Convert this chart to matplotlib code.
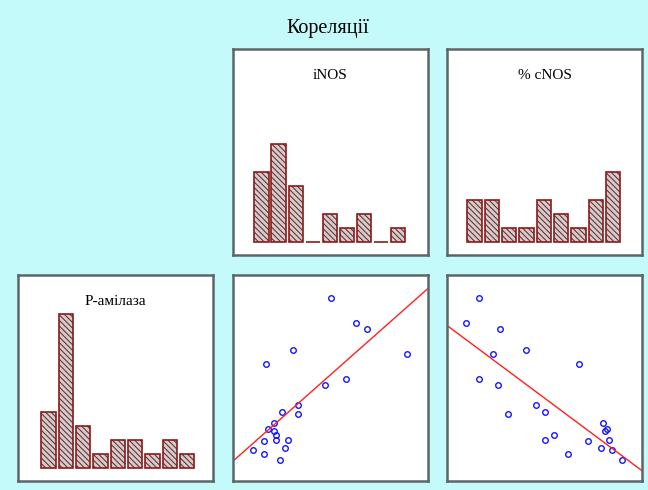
import numpy as np
import matplotlib.pyplot as plt

plt.rcParams['font.family'] = ['Liberation Serif', 'DejaVu Serif']
plt.rcParams['hatch.linewidth'] = 0.8

nan = np.nan

# P-амілаза for every patient (the last 5 have no NOS measurements)
p_amylase = [58.3, 50.8, 49.1, 42.8, 41.6, 38.7, 34.2, 32.3, 26.3, 24.4, 23.8,
             21.0, 19.2, 18.6, 17.5, 15.8, 15.8, 15.6, 13.5, 12.9, 11.8, 10.0,
             16.3, 17.0, 18.1, 19.6, 20.2]
inos = [13.8, 17.7, 19.3, 8.05, 25.3, 4.05, 16.1, 12.95, 8.9, 6.35, 8.9,
        5.2, 4.35, 5.2, 5.5, 5.5, 7.3, 3.75, 6.9, 2.0, 3.75, 6.05,
        nan, nan, nan, nan, nan]
cnos = [14.0, 10.0, 20.1, 27.8, 18.0, 43.8, 14.0, 19.7, 30.8, 33.5, 22.6,
        50.7, 51.9, 51.5, 36.4, 52.5, 33.5, 46.3, 50.2, 53.6, 40.4, 56.4,
        nan, nan, nan, nan, nan]

names = ['P-амілаза', 'iNOS', '% cNOS']
cols = [np.array(p_amylase), np.array(inos), np.array(cnos)]
n_bins = 9

bg = '#c4fafa'
frame = '#5c6666'

fig = plt.figure(figsize=(6.48, 4.90), dpi=100)
fig.patch.set_facecolor(bg)
fig.text(328 / 648, 1 - 28 / 490, 'Кореляції', ha='center', va='center', fontsize=14.5)

W, H = 648.0, 490.0
lefts = [18, 233, 447]
tops = [49, 275]
pw, ph = 195, 206


def make_ax(r, c):
    ax = fig.add_axes([lefts[c] / W, 1 - (tops[r] + ph) / H, pw / W, ph / H])
    ax.set_facecolor('white')
    ax.set_xticks([])
    ax.set_yticks([])
    for s in ax.spines.values():
        s.set_color(frame)
        s.set_linewidth(1.8)
    return ax


def lims(v, lo, hi):
    v = v[~np.isnan(v)]
    r = v.max() - v.min()
    return v.min() - lo * r, v.max() + hi * r


xl = [lims(cols[0], 0.14, 0.11), lims(cols[1], 0.13, 0.14), lims(cols[2], 0.12, 0.13)]
yl = lims(cols[0], 0.13, 0.141)


def hist_panel(ax, v, name, xlim):
    v = v[~np.isnan(v)]
    counts, edges = np.histogram(v, bins=n_bins)
    centers = (edges[:-1] + edges[1:]) / 2
    w = (edges[1] - edges[0]) * 0.83
    ax.bar(centers, counts, width=w, color='#dccaca', hatch='\\\\\\\\\\\\',
           edgecolor='#5a3c3c', linewidth=0)
    ax.bar(centers, counts, width=w, fill=False, edgecolor='#8b1a1a', linewidth=1.2)
    ax.set_xlim(xlim)
    ax.set_ylim(-0.93, 13.8)
    ax.text(0.5, 1 - 26.5 / ph, name, transform=ax.transAxes, ha='center',
            va='center', fontsize=11)


def scatter_panel(ax, x, y, xlim):
    ok = ~np.isnan(x)
    x, y = x[ok], y[ok]
    ax.plot(x, y, 'o', ms=4, mfc='none', mec='#1515ff', mew=1.0)
    k, b = np.polyfit(x, y, 1)
    lx = np.array([xlim[0] - 10, xlim[1] + 10])
    ax.plot(lx, k * lx + b, color='#ff2020', lw=1.0)
    ax.set_xlim(xlim)
    ax.set_ylim(yl)


# diagonal: histograms
hist_panel(make_ax(0, 1), cols[1], names[1], xl[1])
hist_panel(make_ax(0, 2), cols[2], names[2], xl[2])
hist_panel(make_ax(1, 0), cols[0], names[0], xl[0])

# lower row: P-амілаза against each NOS
scatter_panel(make_ax(1, 1), cols[1], cols[0], xl[1])
scatter_panel(make_ax(1, 2), cols[2], cols[0], xl[2])

fig.savefig('out.png', dpi=100, facecolor=bg)
